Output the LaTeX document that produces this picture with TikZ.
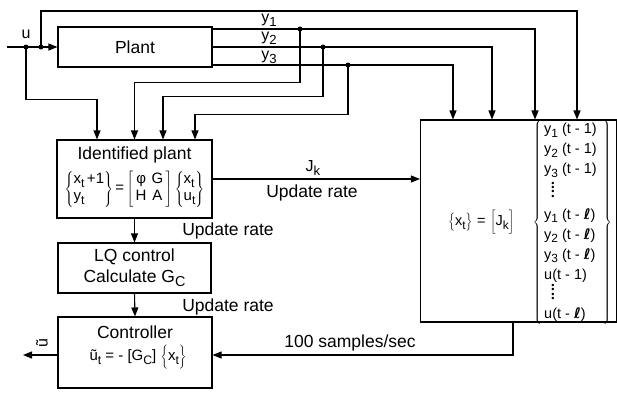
\documentclass[tikz,border=0pt]{standalone}
\usepackage{fontspec}
\setmainfont{Liberation Sans}
\newfontfamily\djv{DejaVu Sans}
\usetikzlibrary{arrows.meta}
\newcommand{\sbs}[1]{\raisebox{-0.45ex}{\scalebox{0.82}{#1}}}
\newcommand{\lel}{{\djv\bfseries ℓ}}
\newcommand{\bdots}{\hspace*{0.5em}\raisebox{-2pt}{\vbox{\fontsize{9}{4.2}\selectfont\lineskip=0pt\lineskiplimit=-100pt\hbox{\textbullet}\hbox{\textbullet}\hbox{\textbullet}\hbox{\textbullet}}}}
\tikzset{
  box/.style={draw, line width=1.1pt, inner sep=0pt},
  arr/.style={line width=1.1pt, -{Triangle[length=9pt,width=7pt]}},
  jdot/.style={circle, fill, inner sep=0pt, minimum size=5pt},
  big/.style={font=\fontsize{17.5}{21}\selectfont, inner sep=0pt},
  mid/.style={font=\fontsize{16}{19}\selectfont, inner sep=0pt},
  eqn/.style={font=\fontsize{15}{17}\selectfont, inner sep=0pt},
  vec/.style={font=\fontsize{14.5}{20}\selectfont, inner sep=0pt}
}
\begin{document}
\begin{tikzpicture}[x=1pt,y=-1pt]
\useasboundingbox (0,0) rectangle (617,392);
% boxes
\node[box, big, minimum width=154pt, minimum height=40pt] (plant) at (135,47) {Plant};
\node[box, minimum width=155pt, minimum height=78pt] (idp) at (134.5,179) {};
\node[box, big, align=center, minimum width=153pt, minimum height=50pt] (lq) at (134.5,268) {LQ control\\Calculate G\sbs{C}};
\node[box, minimum width=154pt, minimum height=71pt] (ctrl) at (135,352.5) {};
\node[box, minimum width=196pt, minimum height=202pt] (est) at (518.5,221) {};
% box texts
\node[big] (idpT) at (134.5,155) {Identified plant};
\node[eqn] (idpE) at (134.5,189) {$\left\{\begin{tabular}{@{}l@{}}x\sbs{t}\,+1\\y\sbs{t}\end{tabular}\right\}\mbox{=}\left[\begin{tabular}{@{\,}c@{\,\,}c@{\,}}φ & G\\H & A\end{tabular}\right]\left\{\begin{tabular}{@{}l@{}}x\sbs{t}\\u\sbs{t}\end{tabular}\right\}$};
\node[big] (ctrlT) at (135,332) {Controller};
\node[eqn] (ctrlE) at (138,357) {ũ\sbs{t} = - [G\sbs{C}] $\left\{\mbox{x\sbs{t}}\vphantom{\rule{0pt}{15pt}}\right\}$};
\node[vec] (estE) at (530,222) {$\left\{\mbox{x\sbs{t}}\vphantom{\rule{0pt}{13pt}}\right\}\mbox{\,=\,}\left[\mbox{J\sbs{k}}\vphantom{\rule{0pt}{15pt}}\right]\mbox{\hspace{14pt}}\left\{\begin{tabular}{@{\,}l@{\hspace{6pt}}}
y\sbs{1} (t - 1)\\
y\sbs{2} (t - 1)\\
y\sbs{3} (t - 1)\\[2.5pt]
\bdots\\[2.5pt]
y\sbs{1} (t - \lel)\\
y\sbs{2} (t - \lel)\\
y\sbs{3} (t - \lel)\\
u(t - 1)\\[-1pt]
\bdots\\[-1pt]
u(t - \lel)
\end{tabular}\right\}$};
% input and junctions
\coordinate (uin) at (7,47);
\coordinate (du) at (26,47);
\coordinate (dt) at (41,47);
\coordinate (b1) at (300,29);
\coordinate (b2) at (323,47);
\coordinate (b3) at (348,65);
\coordinate (c1) at (577,11);
\coordinate (x1) at (535,0);
\coordinate (x2) at (492,0);
\coordinate (x3) at (453,0);
\coordinate (x5) at (513,0);
\coordinate (y5) at (0,355);
\coordinate (uout) at (23,355);
\draw[arr] (uin) -- (plant.west);
\draw[arr] (dt) |- (c1) -- (c1 |- est.north);
\draw[arr] ([yshift=18pt]plant.east) -| (est.north -| x1);
\draw[arr] (plant.east) -| (est.north -| x2);
\draw[arr] ([yshift=-18pt]plant.east) -| (est.north -| x3);
\draw[arr] (b1) |- ([yshift=57pt]idp.north) -- (idp.north);
\draw[arr] (b2) |- ([xshift=28.5pt,yshift=43pt]idp.north) -- ([xshift=28.5pt]idp.north);
\draw[arr] (b3) |- ([xshift=60.5pt,yshift=25pt]idp.north) -- ([xshift=60.5pt]idp.north);
\draw[arr] (du) |- ([xshift=-37.5pt,yshift=40pt]idp.north) -- ([xshift=-37.5pt]idp.north);
\foreach \p in {du,dt,b1,b2,b3} \node[jdot] at (\p) {};
\draw[arr] (idp.east) -- (idp.east -| est.west);
\draw[arr] (idp.south) -- (lq.north);
\draw[arr] (lq.south) -- (ctrl.north);
\draw[arr] (est.south -| x5) |- (ctrl.east |- y5);
\draw[arr] (ctrl.west |- uout) -- (uout);
% labels
\node[mid] (lu) at (26,34) {u};
\node[mid] (ly1) at (269,20) {y\sbs{1}};
\node[mid] (ly2) at (269,38) {y\sbs{2}};
\node[mid] (ly3) at (269,57) {y\sbs{3}};
\node[mid] (ljk) at (313,168) {J\sbs{k}};
\node[big] (lur1) at (312,193) {Update rate};
\node[big] (lur2) at (228,231) {Update rate};
\node[big] (lur3) at (228,307) {Update rate};
\node[big] (l100) at (350,343) {100 samples/sec};
\node[mid, rotate=90] (lut) at (42,343) {ũ};
\end{tikzpicture}
\end{document}
